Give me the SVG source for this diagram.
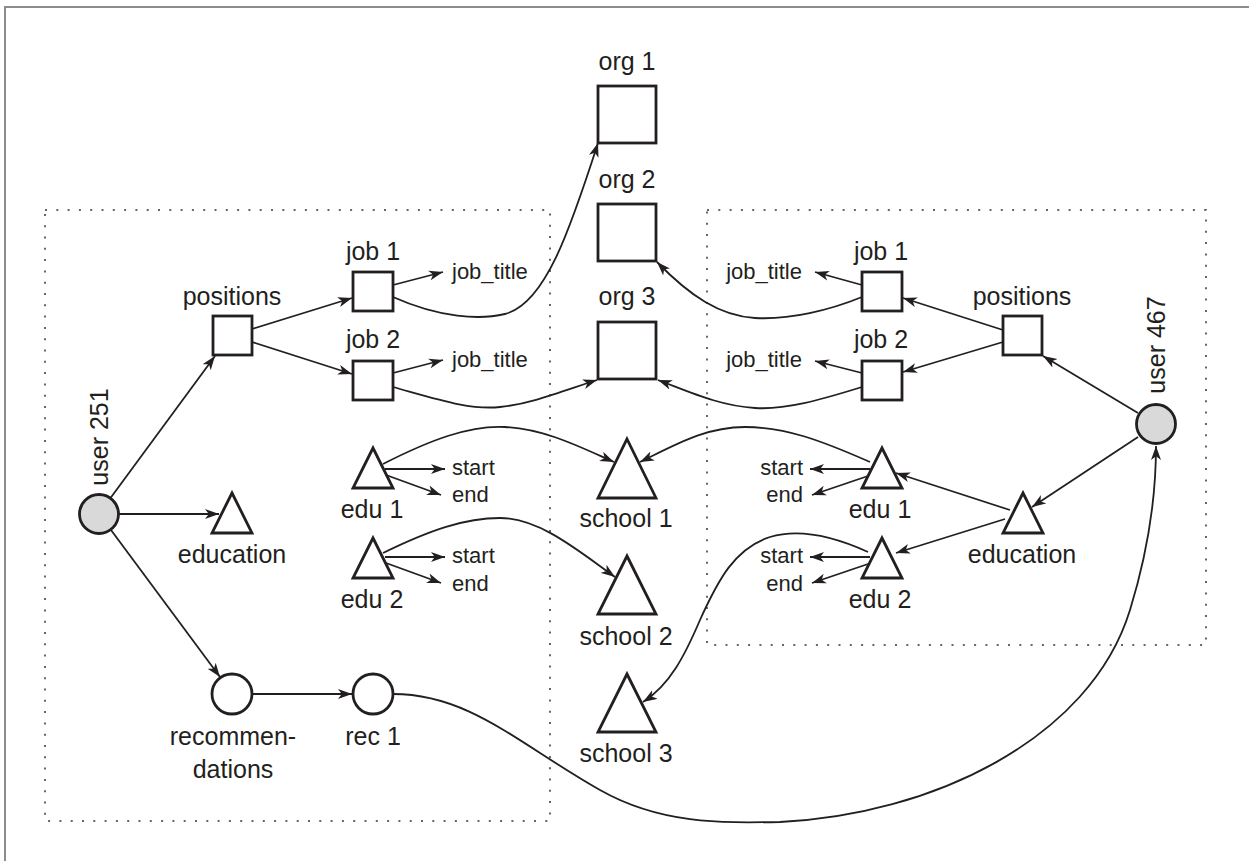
<svg xmlns="http://www.w3.org/2000/svg" width="1249" height="861" viewBox="0 0 1249 861">
<defs>
<marker id="ah" markerWidth="15" markerHeight="11" refX="14" refY="5.5" orient="auto" markerUnits="userSpaceOnUse">
<path d="M0,0.5 L14,5.5 L0,10.5 L3.8,5.5 z" fill="#231f20"/>
</marker>
<style>
.t{font-family:"Liberation Sans",Arial,sans-serif;font-size:25px;fill:#231f20;text-anchor:middle}
.s{font-family:"Liberation Sans",Arial,sans-serif;font-size:22px;fill:#231f20}
.sq,.tri,.cir{fill:#fff;stroke:#231f20;stroke-width:2.8}
.user{fill:#d9d9d9;stroke:#231f20;stroke-width:2.8}
.c{fill:none;stroke:#231f20;stroke-width:1.8;marker-end:url(#ah)}
.box{fill:none;stroke:#666;stroke-width:2;stroke-dasharray:2 9.3}
.frame{fill:none;stroke:#8c8c8c;stroke-width:2}
</style>
</defs>
<rect width="1249" height="861" fill="#fff"/>
<path class="frame" d="M5,861 L5,7 L1249,7"/>
<g id="boxes">
<rect class="box" x="45" y="210" width="505" height="611"/>
<rect class="box" x="707" y="210" width="499" height="435"/>
</g>
<g id="connectors">
<path class="c" d="M110.5,498 L215,356"/>
<path class="c" d="M119,514 L219,514"/>
<path class="c" d="M111,530 L220,677"/>
<path class="c" d="M252,329 L352,298"/>
<path class="c" d="M252,342 L352,374"/>
<path class="c" d="M393,285 L443,272"/>
<path class="c" d="M393,297 C440,318 480,320 505,314 C545,304 570,230 598,143"/>
<path class="c" d="M393,373 L443,360"/>
<path class="c" d="M393,387 C440,400 470,410 500,407 C530,404 560,392 597,380"/>
<path class="c" d="M385,469 L445,469"/>
<path class="c" d="M386,475 L441,495"/>
<path class="c" d="M383,464 C430,440 470,425 505,427 C545,429 580,447 614,462"/>
<path class="c" d="M385,557 L445,557"/>
<path class="c" d="M386,563 L441,583"/>
<path class="c" d="M383,553 C430,530 465,518 500,518 C540,518 580,552 615,577"/>
<path class="c" d="M252,694 L352,694"/>
<path class="c" d="M393,694 C470,694 520,745 600,790 C660,824 720,823 780,822 C930,815 1090,740 1130,610 C1150,545 1156,490 1156,446"/>
<path class="c" d="M1138,413 L1043,356"/>
<path class="c" d="M1138,437 L1032,507"/>
<path class="c" d="M1003,330 L903,298"/>
<path class="c" d="M1003,342 L903,372"/>
<path class="c" d="M1010,510 L896,473"/>
<path class="c" d="M1005,519 L896,553"/>
<path class="c" d="M862,285 L815,272"/>
<path class="c" d="M862,297 C830,310 790,320 755,318 C720,316 690,296 657,262"/>
<path class="c" d="M862,373 L815,361"/>
<path class="c" d="M862,387 C820,400 785,410 755,408 C720,406 690,392 658,380"/>
<path class="c" d="M870,469 L810,469"/>
<path class="c" d="M868,476 L812,495"/>
<path class="c" d="M870,462 C820,440 785,427 745,427 C705,427 675,445 640,462"/>
<path class="c" d="M870,557 L810,557"/>
<path class="c" d="M868,564 L812,583"/>
<path class="c" d="M868,552 C835,537 800,528 770,537 C735,548 718,580 700,620 C685,655 670,685 643,702"/>
</g>
<g id="user251"><circle class="user" cx="99" cy="514" r="19.5"/><text class="t" transform="translate(108,437) rotate(-90)">user 251</text></g>
<g id="positions-l"><rect class="sq" x="213" y="316" width="39" height="39"/><text class="t" x="232" y="305">positions</text></g>
<g id="job1-l"><rect class="sq" x="353" y="272" width="40" height="39"/><text class="t" x="373" y="260">job 1</text></g>
<g id="job2-l"><rect class="sq" x="353" y="361" width="40" height="39"/><text class="t" x="373" y="348">job 2</text></g>
<g id="job1-l-title"><text class="s" x="452" y="279">job_title</text></g>
<g id="job2-l-title"><text class="s" x="452" y="367">job_title</text></g>
<g id="education-l"><polygon class="tri" points="232,493 252,533 212,533"/><text class="t" x="232" y="563">education</text></g>
<g id="edu1-l"><polygon class="tri" points="373,448 393,488 353,488"/><text class="t" x="372" y="518">edu 1</text></g>
<g id="edu2-l"><polygon class="tri" points="373,538 393,578 353,578"/><text class="t" x="372" y="608">edu 2</text></g>
<g id="edu1-l-props"><text class="s" x="452" y="475">start</text><text class="s" x="452" y="502">end</text></g>
<g id="edu2-l-props"><text class="s" x="452" y="563">start</text><text class="s" x="452" y="591">end</text></g>
<g id="recommendations"><circle class="cir" cx="232" cy="694" r="20"/><text class="t" x="233" y="745">recommen-</text><text class="t" x="233" y="778">dations</text></g>
<g id="rec1"><circle class="cir" cx="373" cy="694" r="20"/><text class="t" x="373" y="745">rec 1</text></g>
<g id="org1"><rect class="sq" x="598" y="86" width="58" height="57"/><text class="t" x="627" y="70">org 1</text></g>
<g id="org2"><rect class="sq" x="598" y="204" width="58" height="57"/><text class="t" x="627" y="188">org 2</text></g>
<g id="org3"><rect class="sq" x="598" y="322" width="58" height="57"/><text class="t" x="627" y="305">org 3</text></g>
<g id="school1"><polygon class="tri" points="627,439 656,498 598,498"/><text class="t" x="626" y="527">school 1</text></g>
<g id="school2"><polygon class="tri" points="627,556 656,614 598,614"/><text class="t" x="626" y="645">school 2</text></g>
<g id="school3"><polygon class="tri" points="627,674 656,732 598,732"/><text class="t" x="626" y="762">school 3</text></g>
<g id="user467"><circle class="user" cx="1156" cy="424" r="19.5"/><text class="t" transform="translate(1165,345) rotate(-90)">user 467</text></g>
<g id="positions-r"><rect class="sq" x="1003" y="316" width="39" height="39"/><text class="t" x="1022" y="305">positions</text></g>
<g id="job1-r"><rect class="sq" x="862" y="272" width="40" height="39"/><text class="t" x="881" y="260">job 1</text></g>
<g id="job2-r"><rect class="sq" x="862" y="361" width="40" height="39"/><text class="t" x="881" y="348">job 2</text></g>
<g id="job1-r-title"><text class="s" x="802" y="279" text-anchor="end">job_title</text></g>
<g id="job2-r-title"><text class="s" x="802" y="367" text-anchor="end">job_title</text></g>
<g id="education-r"><polygon class="tri" points="1023,493 1043,533 1003,533"/><text class="t" x="1022" y="563">education</text></g>
<g id="edu1-r"><polygon class="tri" points="882,448 902,488 862,488"/><text class="t" x="880" y="518">edu 1</text></g>
<g id="edu2-r"><polygon class="tri" points="882,538 902,578 862,578"/><text class="t" x="880" y="608">edu 2</text></g>
<g id="edu1-r-props"><text class="s" x="803" y="475" text-anchor="end">start</text><text class="s" x="803" y="502" text-anchor="end">end</text></g>
<g id="edu2-r-props"><text class="s" x="803" y="563" text-anchor="end">start</text><text class="s" x="803" y="591" text-anchor="end">end</text></g>
</svg>
